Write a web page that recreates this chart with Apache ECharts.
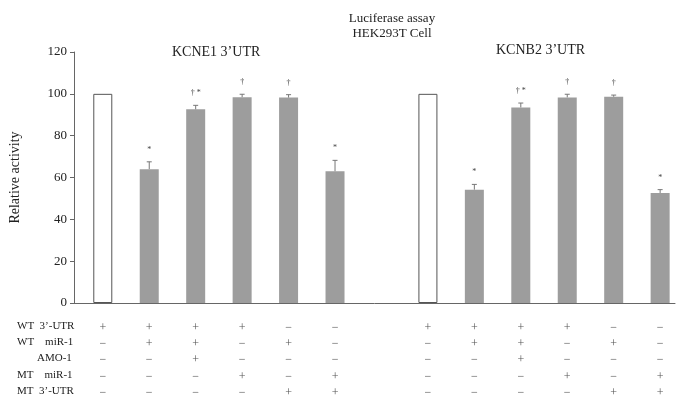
<!DOCTYPE html>
<html>
<head>
    <meta charset="utf-8">
    <title>Luciferase assay</title>
    <script src="https://cdn.jsdelivr.net/npm/echarts@6/dist/echarts.min.js"></script>
</head>
<body style="margin:0;">
    <div id="main" style="width:683px;height:404px;"></div>
    <script type="text/javascript">
        // slot of each bar on the x axis (group 2 starts after one empty slot)
        var positions = [0, 1, 2, 3, 4, 5, 7, 8, 9, 10, 11, 12];
        var values = [100, 64, 92.6, 98.4, 98.2, 63, 100, 54.2, 93.5, 98.3, 98.6, 52.6];
        var errTops = [100, 67.5, 94.5, 99.8, 99.6, 68.2, 100, 56.7, 95.6, 99.8, 99.4, 54.2];
        var marks = ['', '*', '\u2020 *', '\u2020', '\u2020', '*', '', '*', '\u2020 *', '\u2020', '\u2020', '*'];
        var isControl = [true, false, false, false, false, false, true, false, false, false, false, false];

        var rowNames = ['WT  3\u2019-UTR', 'WT    miR-1', 'AMO-1', 'MT    miR-1', 'MT  3\u2019-UTR'];
        var wt3utr = ['+', '+', '+', '+', '\u2212', '\u2212'];
        var wtMiR = ['\u2212', '+', '+', '\u2212', '+', '\u2212'];
        var amo = ['\u2212', '\u2212', '+', '\u2212', '\u2212', '\u2212'];
        var mtMiR = ['\u2212', '\u2212', '\u2212', '+', '\u2212', '+'];
        var mt3utr = ['\u2212', '\u2212', '\u2212', '\u2212', '+', '+'];
        var tableRows = [wt3utr, wtMiR, amo, mtMiR, mt3utr];

        var yTicks = [0, 20, 40, 60, 80, 100, 120];
        var groupTitles = ['KCNE1 3\u2019UTR', 'KCNB2 3\u2019UTR'];

        var font = '"Liberation Serif", "Times New Roman", serif';
        var barGray = '#9d9d9d';

        var myChart = echarts.init(document.getElementById('main'));

        var barData = positions.map(function (p, i) {
            return {
                value: [p, values[i]],
                itemStyle: isControl[i]
                    ? { color: '#fff', borderColor: '#555', borderWidth: 1 }
                    : { color: barGray }
            };
        });

        var errData = positions.map(function (p, i) {
            return [p, values[i], errTops[i], i];
        });

        var rowY = [328, 344, 360, 377, 393];

        var option = {
            animation: false,
            title: {
                text: 'Luciferase assay\nHEK293T Cell',
                left: 387,
                top: 6,
                textAlign: 'center',
                textStyle: {
                    fontFamily: font,
                    fontSize: 13,
                    fontWeight: 'normal',
                    color: '#222',
                    lineHeight: 15
                }
            },
            grid: { left: 72, right: 8, top: 52, bottom: 101 },
            xAxis: {
                type: 'value',
                min: -0.62,
                max: 12.32,
                axisLine: { show: true, onZero: false, lineStyle: { color: '#666', width: 1 } },
                axisTick: { show: false },
                axisLabel: { show: false },
                splitLine: { show: false }
            },
            yAxis: {
                type: 'value',
                min: yTicks[0],
                max: yTicks[yTicks.length - 1],
                interval: 20,
                name: 'Relative activity',
                nameLocation: 'middle',
                nameGap: 52,
                nameTextStyle: { fontFamily: font, fontSize: 14, color: '#222' },
                axisLine: { show: true, onZero: false, lineStyle: { color: '#666', width: 1 } },
                axisTick: { show: true, length: 4, lineStyle: { color: '#666' } },
                axisLabel: { fontFamily: font, fontSize: 13, color: '#222', margin: 7 },
                splitLine: { show: false }
            },
            graphic: [
                { type: 'text', left: 172, top: 45, style: { text: groupTitles[0], font: '14px ' + font, fill: '#222' } },
                { type: 'text', left: 496, top: 43, style: { text: groupTitles[1], font: '14px ' + font, fill: '#222' } }
            ].concat(rowNames.map(function (n, r) {
                return {
                    type: 'text',
                    left: r === 2 ? 37 : 17,
                    top: rowY[r] - 7,
                    style: { text: n, font: '11px ' + font, fill: '#222', whiteSpace: 'pre' }
                };
            })),
            series: [
                {
                    type: 'bar',
                    barWidth: 19,
                    data: barData
                },
                {
                    type: 'custom',
                    data: errData,
                    renderItem: function (params, api) {
                        var x = api.coord([api.value(0), 0])[0];
                        var yBar = api.coord([0, api.value(1)])[1];
                        var yErr = api.coord([0, api.value(2)])[1];
                        var idx = api.value(3);
                        var children = [];
                        if (yBar - yErr > 0.5) {
                            children.push({
                                type: 'line',
                                shape: { x1: x, y1: yBar, x2: x, y2: yErr },
                                style: { stroke: '#777', lineWidth: 1 }
                            });
                            children.push({
                                type: 'line',
                                shape: { x1: x - 2.5, y1: yErr, x2: x + 2.5, y2: yErr },
                                style: { stroke: '#777', lineWidth: 1 }
                            });
                        }
                        if (marks[idx]) {
                            children.push({
                                type: 'text',
                                x: x,
                                y: yErr - 8,
                                style: {
                                    text: marks[idx],
                                    font: '8px ' + font,
                                    fill: '#444',
                                    align: 'center',
                                    verticalAlign: 'bottom'
                                }
                            });
                        }
                        // condition table below the axis
                        for (var r = 0; r < tableRows.length; r++) {
                            children.push({
                                type: 'text',
                                x: x,
                                y: rowY[r],
                                style: {
                                    text: tableRows[r][idx % 6],
                                    font: '12px ' + font,
                                    fill: '#555',
                                    align: 'center',
                                    verticalAlign: 'middle'
                                }
                            });
                        }
                        return { type: 'group', children: children };
                    },
                    z: 3
                }
            ]
        };

        myChart.setOption(option);
    </script>
</body>
</html>
